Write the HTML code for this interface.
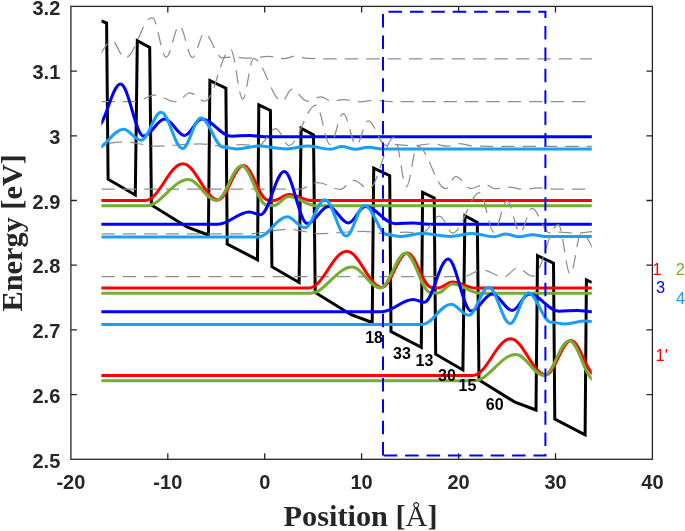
<!DOCTYPE html>
<html><head><meta charset="utf-8"><title>Band diagram</title>
<style>html,body{margin:0;padding:0;background:#fff;}svg{display:block;}</style></head>
<body>
<svg width="685" height="531" viewBox="0 0 685 531">
<defs><clipPath id="c"><rect x="101.4" y="0" width="490.4" height="470"/></clipPath></defs>
<rect x="0" y="0" width="685" height="531" fill="#fff"/>
<g stroke="#262626" stroke-width="1.3" fill="none">
<rect x="70.9" y="6.4" width="581.5" height="452.9"/>
<path d="M70.9 71.1 h6 M652.4 71.1 h-6"/>
<path d="M70.9 135.8 h6 M652.4 135.8 h-6"/>
<path d="M70.9 200.5 h6 M652.4 200.5 h-6"/>
<path d="M70.9 265.2 h6 M652.4 265.2 h-6"/>
<path d="M70.9 329.9 h6 M652.4 329.9 h-6"/>
<path d="M70.9 394.6 h6 M652.4 394.6 h-6"/>
<path d="M167.8 459.3 v-6 M167.8 6.4 v6"/>
<path d="M264.7 459.3 v-6 M264.7 6.4 v6"/>
<path d="M361.6 459.3 v-6 M361.6 6.4 v6"/>
<path d="M458.6 459.3 v-6 M458.6 6.4 v6"/>
<path d="M555.5 459.3 v-6 M555.5 6.4 v6"/>
</g>
<g font-family="'Liberation Sans', Arial, sans-serif" font-weight="bold" font-size="20px" fill="#262626">
<text x="60.3" y="14.6" text-anchor="end">3.2</text>
<text x="60.3" y="79.3" text-anchor="end">3.1</text>
<text x="60.3" y="144.0" text-anchor="end">3</text>
<text x="60.3" y="208.7" text-anchor="end">2.9</text>
<text x="60.3" y="273.4" text-anchor="end">2.8</text>
<text x="60.3" y="338.1" text-anchor="end">2.7</text>
<text x="60.3" y="402.8" text-anchor="end">2.6</text>
<text x="60.3" y="467.5" text-anchor="end">2.5</text>
<text x="70.9" y="489" text-anchor="middle">-20</text>
<text x="167.8" y="489" text-anchor="middle">-10</text>
<text x="264.7" y="489" text-anchor="middle">0</text>
<text x="361.6" y="489" text-anchor="middle">10</text>
<text x="458.6" y="489" text-anchor="middle">20</text>
<text x="555.5" y="489" text-anchor="middle">30</text>
<text x="652.4" y="489" text-anchor="middle">40</text>
</g>
<g font-family="'Liberation Serif', 'Times New Roman', serif" font-weight="bold" font-size="30.3px" fill="#262626">
<text x="360.6" y="525.6" text-anchor="middle">Position [<tspan font-weight="normal">Å</tspan>]</text>
<text transform="translate(22.3 232.8) rotate(-90)" text-anchor="middle">Energy [eV]</text>
</g>
<g clip-path="url(#c)" fill="none" stroke-linejoin="round">
<path d="M101.4 21.0 L106.6 23.0 L108.1 179.2 L135.3 195.0 L137.3 40.8 L149.7 47.4 L151.4 205.0 L187.4 227.2 L208.4 235.0 L209.9 80.7 L225.9 88.1 L227.2 244.0 L257.5 259.8 L258.8 104.8 L270.4 110.5 L271.9 266.7 L299.1 282.5 L301.1 128.3 L313.5 134.9 L315.2 292.5 L351.2 314.7 L372.2 322.5 L373.7 168.2 L389.7 175.6 L391.0 331.5 L421.3 347.3 L422.6 192.3 L434.2 198.0 L435.7 354.2 L462.9 370.0 L464.9 215.8 L477.3 222.4 L479.0 380.0 L515.0 402.2 L536.0 410.0 L537.5 255.7 L553.5 263.1 L554.8 419.0 L585.1 434.8 L586.4 279.8 L591.8 282.5" stroke="#000" stroke-width="3.0" stroke-linejoin="miter"/>
<path d="M101.4 58.9 L-80.0 58.9 C-65.1 58.9 -53.9 54.4 -39.0 54.4 C-27.7 54.4 -19.3 58.6 -8.0 58.6 C8.0 58.6 20.0 56.4 36.0 56.4 C44.0 56.4 50.0 58.6 58.0 58.6 C65.3 58.6 70.7 57.2 78.0 57.2 C84.0 57.2 88.5 58.3 94.5 58.3 C100.9 58.3 105.6 41.0 112.0 41.0 C116.7 41.0 120.3 58.0 125.0 58.0 C134.9 58.0 142.3 17.5 152.2 17.5 C157.3 17.5 161.1 57.0 166.2 57.0 C171.0 57.0 174.6 26.0 179.4 26.0 C184.2 26.0 187.7 57.5 192.5 57.5 C196.8 57.5 200.1 33.3 204.4 33.3 C210.8 33.3 215.6 57.8 222.0 57.8 C225.8 57.8 228.6 57.0 232.4 57.0 C237.7 57.0 241.7 58.2 247.0 58.2 C255.0 58.2 261.0 56.4 269.0 56.4 C274.5 56.4 278.5 58.7 284.0 58.7 C288.2 58.7 291.3 56.0 295.5 56.0 C300.1 56.0 303.4 58.4 308.0 58.4 C316.0 58.4 322.0 58.9 330.0 58.9 L1100.0 58.9" stroke="#8e8e8e" stroke-width="1.25" stroke-dasharray="13.4 8"/>
<path d="M101.4 101.6 L136.0 101.6 C142.6 101.6 147.4 95.0 154.0 95.0 C162.2 95.0 168.3 101.9 176.5 101.9 C181.4 101.9 185.0 92.9 189.9 92.9 C195.4 92.9 199.5 101.2 205.0 101.2 C214.4 101.2 221.3 49.7 230.7 49.7 C235.1 49.7 238.3 99.0 242.7 99.0 C246.7 99.0 249.6 58.5 253.6 58.5 C264.0 58.5 271.7 101.2 282.1 101.2 C285.7 101.2 288.4 89.1 292.0 89.1 C297.5 89.1 301.5 101.0 307.0 101.0 C312.1 101.0 315.9 96.9 321.0 96.9 C324.8 96.9 327.6 101.2 331.4 101.2 C336.0 101.2 339.4 99.5 344.0 99.5 C349.8 99.5 354.2 101.8 360.0 101.8 C365.1 101.8 368.9 100.3 374.0 100.3 C379.8 100.3 384.2 101.6 390.0 101.6 L1100.0 101.6" stroke="#8e8e8e" stroke-width="1.25" stroke-dasharray="13.4 8"/>
<path d="M-400.0 136.7 L54.4 136.7 C65.8 136.7 74.2 124.4 85.6 124.4 C89.6 124.4 92.6 127.3 96.6 127.3 C105.3 127.3 111.8 84.1 120.5 84.1 C128.9 84.1 135.2 136.0 143.6 136.0 C151.3 136.0 157.1 119.0 164.8 119.0 C172.0 119.0 177.4 135.5 184.6 135.5 C190.8 135.5 195.4 119.0 201.6 119.0 C212.5 119.0 220.5 136.3 231.4 136.3 C238.1 136.3 243.2 135.4 249.9 135.4 C255.2 135.4 259.1 136.7 264.4 136.7 L1100.0 136.7" stroke="#0000ff" stroke-width="3.0"/>
<path d="M101.4 146.4 L83.8 146.4 C98.7 146.4 109.9 141.9 124.8 141.9 C136.1 141.9 144.5 146.1 155.8 146.1 C171.8 146.1 183.8 143.9 199.8 143.9 C207.8 143.9 213.8 146.1 221.8 146.1 C229.1 146.1 234.5 144.7 241.8 144.7 C247.8 144.7 252.3 145.8 258.3 145.8 C264.7 145.8 269.4 128.5 275.8 128.5 C280.5 128.5 284.1 145.5 288.8 145.5 C298.7 145.5 306.1 105.0 316.0 105.0 C321.1 105.0 324.9 144.5 330.0 144.5 C334.8 144.5 338.4 113.5 343.2 113.5 C348.0 113.5 351.5 145.0 356.3 145.0 C360.6 145.0 363.9 120.8 368.2 120.8 C374.6 120.8 379.4 145.3 385.8 145.3 C389.6 145.3 392.4 144.5 396.2 144.5 C401.5 144.5 405.5 145.7 410.8 145.7 C418.8 145.7 424.8 143.9 432.8 143.9 C438.3 143.9 442.3 146.2 447.8 146.2 C452.0 146.2 455.1 143.5 459.3 143.5 C463.9 143.5 467.2 145.9 471.8 145.9 C479.8 145.9 485.8 146.4 493.8 146.4 L1100.0 146.4" stroke="#8e8e8e" stroke-width="1.25" stroke-dasharray="13.4 8"/>
<path d="M-400.0 149.6 L94.4 149.6 C105.0 149.6 112.8 129.2 123.4 129.2 C129.8 129.2 134.6 140.3 141.0 140.3 C148.3 140.3 153.8 112.2 161.1 112.2 C168.9 112.2 174.6 148.5 182.4 148.5 C189.1 148.5 194.2 118.0 200.9 118.0 C209.1 118.0 215.2 147.3 223.4 147.3 C228.5 147.3 232.3 149.0 237.4 149.0 C244.8 149.0 250.4 146.1 257.8 146.1 C268.2 146.1 276.0 148.9 286.4 148.9 C294.4 148.9 300.4 146.0 308.4 146.0 C316.4 146.0 322.4 149.3 330.4 149.3 C334.6 149.3 337.6 146.6 341.8 146.6 C346.9 146.6 350.7 149.3 355.8 149.3 C360.2 149.3 363.6 147.2 368.0 147.2 C374.0 147.2 378.4 149.1 384.4 149.1 L1100.0 149.1" stroke="#189ffb" stroke-width="3.0"/>
<path d="M101.4 189.1 L299.8 189.1 C306.4 189.1 311.2 182.5 317.8 182.5 C326.0 182.5 332.1 189.4 340.3 189.4 C345.2 189.4 348.8 180.4 353.7 180.4 C359.2 180.4 363.3 188.7 368.8 188.7 C378.2 188.7 385.1 137.2 394.5 137.2 C398.9 137.2 402.1 186.5 406.5 186.5 C410.5 186.5 413.4 146.0 417.4 146.0 C427.8 146.0 435.5 188.7 445.9 188.7 C449.5 188.7 452.2 176.6 455.8 176.6 C461.3 176.6 465.3 188.5 470.8 188.5 C475.9 188.5 479.7 184.4 484.8 184.4 C488.6 184.4 491.4 188.7 495.2 188.7 C499.8 188.7 503.2 187.0 507.8 187.0 C513.6 187.0 518.0 189.3 523.8 189.3 C528.9 189.3 532.7 187.8 537.8 187.8 C543.6 187.8 548.0 189.1 553.8 189.1 L1100.0 189.1" stroke="#8e8e8e" stroke-width="1.25" stroke-dasharray="13.4 8"/>
<path d="M-400.0 200.6 L145.2 200.6 C159.0 200.6 169.2 163.8 183.0 163.8 C195.7 163.8 205.3 199.9 218.0 199.9 C227.3 199.9 234.1 165.5 243.4 165.5 C252.3 165.5 258.8 199.9 267.7 199.9 C270.1 199.9 271.8 200.4 274.2 200.4 C279.5 200.4 283.5 194.6 288.8 194.6 C297.3 194.6 303.7 200.6 312.2 200.6 L1100.0 200.6" stroke="#ff0000" stroke-width="3.0"/>
<path d="M-400.0 205.8 L146.2 205.8 C161.5 205.8 172.9 179.5 188.2 179.5 C198.5 179.5 206.1 200.5 216.4 200.5 C225.7 200.5 232.5 165.7 241.8 165.7 C250.9 165.7 257.6 205.0 266.7 205.0 C269.4 205.0 271.5 205.4 274.2 205.4 C279.5 205.4 283.4 196.5 288.7 196.5 C298.7 196.5 306.2 205.8 316.2 205.8 L1100.0 205.8" stroke="#77ac30" stroke-width="3.0"/>
<path d="M-400.0 224.2 L218.2 224.2 C229.6 224.2 238.0 211.9 249.4 211.9 C253.4 211.9 256.4 214.8 260.4 214.8 C269.1 214.8 275.6 171.6 284.3 171.6 C292.7 171.6 299.0 223.5 307.4 223.5 C315.1 223.5 320.9 206.5 328.6 206.5 C335.8 206.5 341.2 223.0 348.4 223.0 C354.6 223.0 359.2 206.5 365.4 206.5 C376.3 206.5 384.3 223.8 395.2 223.8 C401.9 223.8 407.0 222.9 413.7 222.9 C419.0 222.9 422.9 224.2 428.2 224.2 L1100.0 224.2" stroke="#0000ff" stroke-width="3.0"/>
<path d="M101.4 233.9 L247.6 233.9 C262.5 233.9 273.7 229.4 288.6 229.4 C299.9 229.4 308.3 233.6 319.6 233.6 C335.6 233.6 347.6 231.4 363.6 231.4 C371.6 231.4 377.6 233.6 385.6 233.6 C392.9 233.6 398.3 232.2 405.6 232.2 C411.6 232.2 416.1 233.3 422.1 233.3 C428.5 233.3 433.2 216.0 439.6 216.0 C444.3 216.0 447.9 233.0 452.6 233.0 C462.5 233.0 469.9 192.5 479.8 192.5 C484.9 192.5 488.7 232.0 493.8 232.0 C498.6 232.0 502.2 201.0 507.0 201.0 C511.8 201.0 515.3 232.5 520.1 232.5 C524.4 232.5 527.7 208.3 532.0 208.3 C538.4 208.3 543.2 232.8 549.6 232.8 C553.4 232.8 556.2 232.0 560.0 232.0 C565.3 232.0 569.3 233.2 574.6 233.2 C582.6 233.2 588.6 231.4 596.6 231.4 C602.1 231.4 606.1 233.7 611.6 233.7 C615.8 233.7 618.9 231.0 623.1 231.0 C627.7 231.0 631.0 233.4 635.6 233.4 C643.6 233.4 649.6 233.9 657.6 233.9 L1100.0 233.9" stroke="#8e8e8e" stroke-width="1.25" stroke-dasharray="13.4 8"/>
<path d="M-400.0 237.1 L258.2 237.1 C268.8 237.1 276.6 216.7 287.2 216.7 C293.6 216.7 298.4 227.8 304.8 227.8 C312.1 227.8 317.6 199.7 324.9 199.7 C332.7 199.7 338.4 236.0 346.2 236.0 C352.9 236.0 358.0 205.5 364.7 205.5 C372.9 205.5 379.0 234.8 387.2 234.8 C392.3 234.8 396.1 236.5 401.2 236.5 C408.6 236.5 414.2 233.6 421.6 233.6 C432.0 233.6 439.8 236.4 450.2 236.4 C458.2 236.4 464.2 233.5 472.2 233.5 C480.2 233.5 486.2 236.8 494.2 236.8 C498.4 236.8 501.4 234.1 505.6 234.1 C510.7 234.1 514.5 236.8 519.6 236.8 C524.0 236.8 527.4 234.7 531.8 234.7 C537.8 234.7 542.2 236.6 548.2 236.6 L1100.0 236.6" stroke="#189ffb" stroke-width="3.0"/>
<path d="M101.4 276.6 L463.6 276.6 C470.2 276.6 475.0 270.0 481.6 270.0 C489.8 270.0 495.9 276.9 504.1 276.9 C509.0 276.9 512.6 267.9 517.5 267.9 C523.0 267.9 527.1 276.2 532.6 276.2 C542.0 276.2 548.9 224.7 558.3 224.7 C562.7 224.7 565.9 274.0 570.3 274.0 C574.3 274.0 577.2 233.5 581.2 233.5 C591.6 233.5 599.3 276.2 609.7 276.2 C613.3 276.2 616.0 264.1 619.6 264.1 C625.1 264.1 629.1 276.0 634.6 276.0 C639.7 276.0 643.5 271.9 648.6 271.9 C652.4 271.9 655.2 276.2 659.0 276.2 C663.6 276.2 667.0 274.5 671.6 274.5 C677.4 274.5 681.8 276.8 687.6 276.8 C692.7 276.8 696.5 275.3 701.6 275.3 C707.4 275.3 711.8 276.6 717.6 276.6 L1100.0 276.6" stroke="#8e8e8e" stroke-width="1.25" stroke-dasharray="13.4 8"/>
<path d="M-400.0 288.1 L309.0 288.1 C322.8 288.1 333.0 251.3 346.8 251.3 C359.5 251.3 369.1 287.4 381.8 287.4 C391.1 287.4 397.9 253.0 407.2 253.0 C416.1 253.0 422.6 287.4 431.5 287.4 C433.9 287.4 435.6 287.9 438.0 287.9 C443.3 287.9 447.3 282.1 452.6 282.1 C461.1 282.1 467.5 288.1 476.0 288.1 L1100.0 288.1" stroke="#ff0000" stroke-width="3.0"/>
<path d="M-400.0 293.3 L310.0 293.3 C325.3 293.3 336.7 267.0 352.0 267.0 C362.3 267.0 369.9 288.0 380.2 288.0 C389.5 288.0 396.3 253.2 405.6 253.2 C414.7 253.2 421.4 292.5 430.5 292.5 C433.2 292.5 435.3 292.9 438.0 292.9 C443.3 292.9 447.2 284.0 452.5 284.0 C462.5 284.0 470.0 293.3 480.0 293.3 L1100.0 293.3" stroke="#77ac30" stroke-width="3.0"/>
<path d="M-400.0 311.7 L382.0 311.7 C393.4 311.7 401.8 299.4 413.2 299.4 C417.2 299.4 420.2 302.3 424.2 302.3 C432.9 302.3 439.4 259.1 448.1 259.1 C456.5 259.1 462.8 311.0 471.2 311.0 C478.9 311.0 484.7 294.0 492.4 294.0 C499.6 294.0 505.0 310.5 512.2 310.5 C518.4 310.5 523.0 294.0 529.2 294.0 C540.1 294.0 548.1 311.3 559.0 311.3 C565.7 311.3 570.8 310.4 577.5 310.4 C582.8 310.4 586.7 311.7 592.0 311.7 L1100.0 311.7" stroke="#0000ff" stroke-width="3.0"/>
<path d="M-400.0 324.6 L422.0 324.6 C432.6 324.6 440.4 304.2 451.0 304.2 C457.4 304.2 462.2 315.3 468.6 315.3 C475.9 315.3 481.4 287.2 488.7 287.2 C496.5 287.2 502.2 323.5 510.0 323.5 C516.7 323.5 521.8 293.0 528.5 293.0 C536.7 293.0 542.8 322.3 551.0 322.3 C556.1 322.3 559.9 324.0 565.0 324.0 C572.4 324.0 578.0 321.1 585.4 321.1 C595.8 321.1 603.6 323.9 614.0 323.9 C622.0 323.9 628.0 321.0 636.0 321.0 C644.0 321.0 650.0 324.3 658.0 324.3 C662.2 324.3 665.2 321.6 669.4 321.6 C674.5 321.6 678.3 324.3 683.4 324.3 C687.8 324.3 691.2 322.2 695.6 322.2 C701.6 322.2 706.0 324.1 712.0 324.1 L1100.0 324.1" stroke="#189ffb" stroke-width="3.0"/>
<path d="M-400.0 375.6 L472.8 375.6 C486.6 375.6 496.8 338.8 510.6 338.8 C523.3 338.8 532.9 374.9 545.6 374.9 C554.9 374.9 561.7 340.5 571.0 340.5 C579.9 340.5 586.4 374.9 595.3 374.9 C597.7 374.9 599.4 375.4 601.8 375.4 C607.1 375.4 611.1 369.6 616.4 369.6 C624.9 369.6 631.3 375.6 639.8 375.6 L1100.0 375.6" stroke="#ff0000" stroke-width="3.0"/>
<path d="M-400.0 380.8 L473.8 380.8 C489.1 380.8 500.5 354.5 515.8 354.5 C526.1 354.5 533.7 375.5 544.0 375.5 C553.3 375.5 560.1 340.7 569.4 340.7 C578.5 340.7 585.2 380.0 594.3 380.0 C597.0 380.0 599.1 380.4 601.8 380.4 C607.1 380.4 611.0 371.5 616.3 371.5 C626.3 371.5 633.8 380.8 643.8 380.8 L1100.0 380.8" stroke="#77ac30" stroke-width="3.0"/>
</g>
<path d="M383 455.6 V11.7 H545.4 V455.6 H383" fill="none" stroke="#0000ff" stroke-width="2" stroke-dasharray="13.5 7.9"/>
<g font-family="'Liberation Sans', Arial, sans-serif" font-weight="bold" font-size="16px" fill="#000">
<text x="365.2" y="342.7">18</text>
<text x="393.0" y="359.3">33</text>
<text x="415.6" y="366.0">13</text>
<text x="438.0" y="381.2">30</text>
<text x="458.6" y="390.8">15</text>
<text x="485.8" y="410.0">60</text>
</g>
<g font-family="'Liberation Sans', Arial, sans-serif" font-size="16.4px">
<text x="652.6" y="274.8" fill="#ff0000">1</text>
<text x="675.7" y="274.8" fill="#77ac30">2</text>
<text x="656" y="292.9" fill="#0000ff">3</text>
<text x="676" y="304.2" fill="#189ffb">4</text>
<text x="655.6" y="360.6" fill="#ff0000">1'</text>
</g>
</svg>
</body></html>
